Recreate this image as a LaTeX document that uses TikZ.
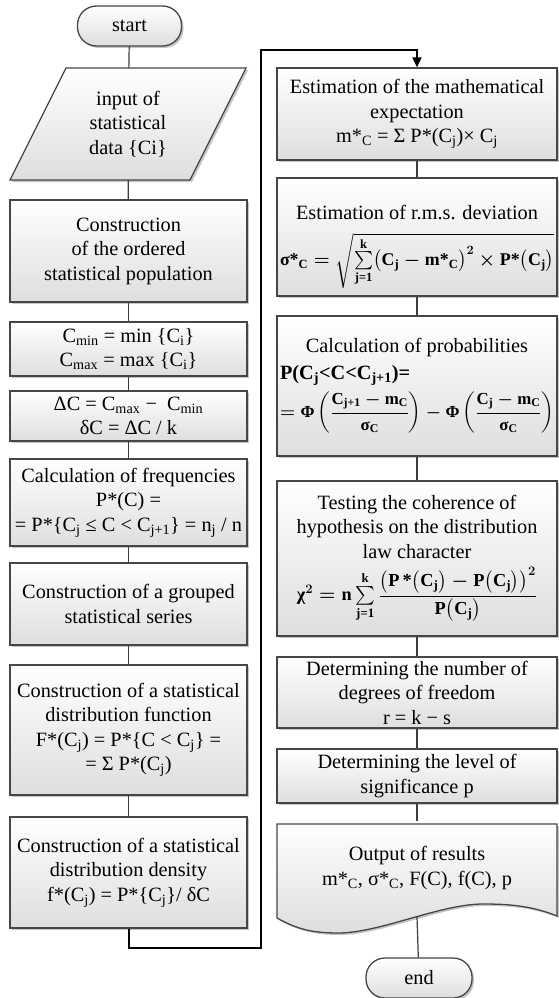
\documentclass[tikz,border=0pt]{standalone}
\usepackage{amsmath}
\usepackage{graphicx}
\usepackage{fontspec}
\setmainfont{Liberation Serif}
\usepackage{xcolor}
\usepackage{tikz}
\usetikzlibrary{shadows,arrows.meta}
\definecolor{FlowBorder}{RGB}{70,70,70}
\definecolor{FlowShade}{RGB}{222,222,222}
\definecolor{FlowShadow}{RGB}{140,140,140}
\definecolor{FlowLine}{RGB}{60,60,60}
\newcommand{\bt}[1]{\text{\bfseries #1}}

\begin{document}
\begin{tikzpicture}[x=1pt,y=-1pt,
    font=\fontsize{20.3}{24.5}\selectfont,
    flowbox/.style={draw=FlowBorder, line width=1.3pt, top color=white, bottom color=FlowShade, drop shadow={shadow xshift=2pt, shadow yshift=-2pt, fill=FlowShadow}, align=center, inner sep=2pt},
    leftbox/.style={flowbox, minimum width=237pt},
    rightbox/.style={flowbox, minimum width=280pt},
    termbox/.style={flowbox, rounded corners=19pt, minimum width=104pt, minimum height=40pt},
    flowline/.style={draw=FlowLine, line width=1.2pt}]
  \useasboundingbox (0,0) rectangle (558,998);

  \node[termbox] (start) at (129.5,26) {start};
  \path[flowbox] (66,68) -- (246,68) -- (190,180) -- (10,180) -- cycle;
  \node[minimum width=180pt, minimum height=112pt, align=center, inner sep=2pt] (input) at (128,124) {input of\\statistical\\data \{Ci\}};
  \node[leftbox, minimum height=102pt] (build) at (128.5,251) {Construction\\of the ordered\\statistical population};
  \node[leftbox, minimum height=54pt] (minmax) at (128.5,349) {C\textsubscript{min} = min \{C\textsubscript{i}\}\\C\textsubscript{max} = max \{C\textsubscript{i}\}};
  \node[leftbox, minimum height=50pt] (range) at (128.5,416) {ΔC = C\textsubscript{max} −\ \ C\textsubscript{min}\\δC = ΔC / k};
  \node[leftbox, minimum height=87pt] (freq) at (128.5,502.5) {Calculation of frequencies\\P*(C) =\\= P*\{C\textsubscript{j} ≤ C < C\textsubscript{j+1}\} = n\textsubscript{j} / n};
  \node[leftbox, minimum height=82pt] (group) at (128.5,604) {Construction of a grouped\\statistical series};
  \node[leftbox, minimum height=130pt] (distf) at (128.5,730) {Construction of a statistical\\distribution function\\F*(C\textsubscript{j}) = P*\{C < C\textsubscript{j}\} =\\= Σ P*(C\textsubscript{j})};
  \node[leftbox, minimum height=111pt] (dens) at (128.5,872.5) {Construction of a statistical\\distribution density\\f*(C\textsubscript{j}) = P*\{C\textsubscript{j}\}/ δC};

  \node[rightbox, minimum height=92pt] (mexp) at (417,114) {Estimation of the mathematical\\expectation\\m*\textsubscript{C} = Σ P*(C\textsubscript{j})× C\textsubscript{j}};
  \node[rightbox, minimum height=118pt] (rms) at (417,237) {\rule{0pt}{34pt}Estimation of r.m.s. deviation\\[12pt]\resizebox{274pt}{!}{\boldmath$\bt{σ*}_{\bt{C}} = \sqrt{\sum\limits_{\bt{j=1}}^{\bt{k}}\bigl(\bt{C}_{\bt{j}} - \bt{m*}_{\bt{C}}\bigr)^{2}\times\bt{P*}\bigl(\bt{C}_{\bt{j}}\bigr)}$}};
  \node[rightbox, minimum height=140pt] (prob) at (417,386) {Calculation of probabilities\\[2pt]\makebox[274pt][l]{\bfseries P(C\textsubscript{j}<C<C\textsubscript{j+1})=}\\[6pt]\resizebox{274pt}{!}{\boldmath$= \bt{Φ}\left(\dfrac{\bt{C}_{\bt{j+1}} - \bt{m}_{\bt{C}}}{\bt{σ}_{\bt{C}}}\right) - \bt{Φ}\left(\dfrac{\bt{C}_{\bt{j}} - \bt{m}_{\bt{C}}}{\bt{σ}_{\bt{C}}}\right)$}};
  \node[rightbox, minimum height=155pt] (test) at (417,558.5) {Testing the coherence of\\hypothesis on the distribution\\law character\\[8pt]\resizebox{240pt}{!}{\boldmath$\bt{χ}^{2} = \bt{n}\sum\limits_{\bt{j=1}}^{\bt{k}}\dfrac{\bigl(\bt{P\,*}\bigl(\bt{C}_{\bt{j}}\bigr) - \bt{P}\bigl(\bt{C}_{\bt{j}}\bigr)\bigr)^{2}}{\bt{P}\bigl(\bt{C}_{\bt{j}}\bigr)}$}};
  \node[rightbox, minimum height=71pt] (dof) at (417,692.5) {Determining the number of\\degrees of freedom\\r = k − s};
  \node[rightbox, minimum height=54pt] (sig) at (417,776) {Determining the level of\\significance p};
  \node[termbox, minimum width=106pt] (end) at (419,978) {end};

  \path[flowbox] (277,824) -- (557,824) -- (557,916) .. controls (530,905) and (505,904) .. (483,904) .. controls (440,904) and (380,933) .. (338,933) .. controls (310,933) and (295,928) .. (277,918) -- cycle;
  \node[minimum width=280pt, minimum height=94pt, align=center, inner sep=2pt] (outp) at (417,868) {Output of results\\m*\textsubscript{C}, σ*\textsubscript{C}, F(C), f(C), p};
  \coordinate (outw) at (417,917);
  \coordinate (loopa) at (261,948);
  \coordinate (loopb) at (261,50);

  \draw[flowline] (start) -- (input);
  \draw[flowline] (input) -- (build);
  \draw[flowline] (build) -- (minmax);
  \draw[flowline] (minmax) -- (range);
  \draw[flowline] (range) -- (freq);
  \draw[flowline] (freq) -- (group);
  \draw[flowline] (group) -- (distf);
  \draw[flowline] (distf) -- (dens);
  \draw[line width=2pt, -{Triangle[length=10pt,width=9pt]}] (dens.south) |- (loopa) -- (loopb) -| (mexp.north);
  \draw[flowline] (mexp) -- (rms);
  \draw[flowline] (rms) -- (prob);
  \draw[flowline] (prob) -- (test);
  \draw[flowline] (test) -- (dof);
  \draw[flowline] (dof) -- (sig);
  \draw[flowline] (sig) -- (outp);
  \draw[flowline] (outw) -- (end);
\end{tikzpicture}
\end{document}
